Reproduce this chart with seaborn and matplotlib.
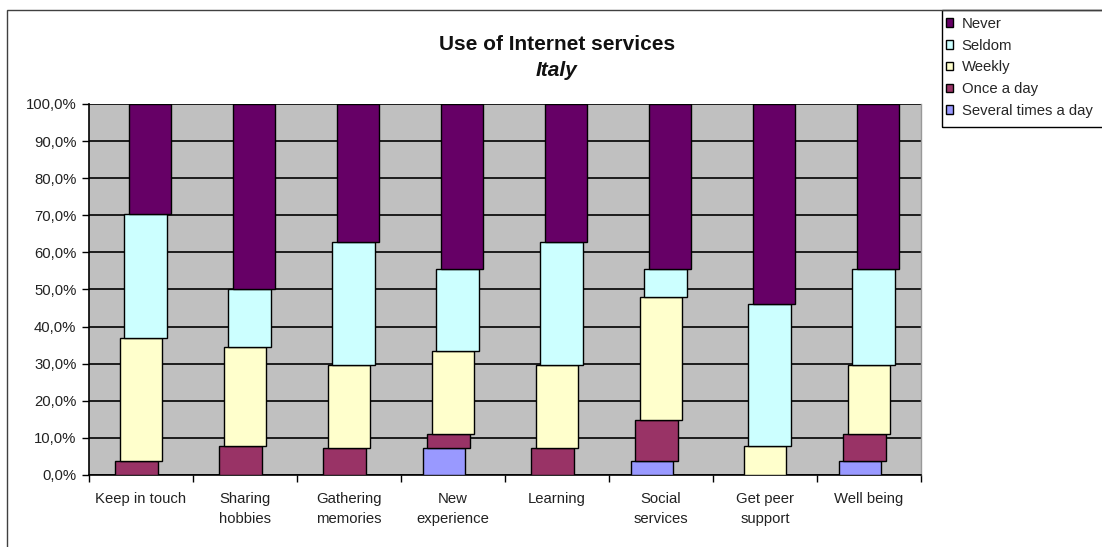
import numpy as np
import matplotlib
matplotlib.use("Agg")
import matplotlib.pyplot as plt
import seaborn as sns
from matplotlib.transforms import ScaledTranslation
from matplotlib.patches import Rectangle, Patch
from matplotlib.ticker import FuncFormatter

# Share of respondents (%) per service and frequency of use
categories = ["Keep in touch", "Sharing\nhobbies", "Gathering\nmemories", "New\nexperience",
              "Learning", "Social\nservices", "Get peer\nsupport", "Well being"]
several_times_a_day = [0.0, 0.0, 0.0, 7.4, 0.0, 3.7, 0.0, 3.7]
once_a_day = [3.7, 7.7, 7.4, 3.7, 7.4, 11.1, 0.0, 7.4]
weekly = [33.3, 26.9, 22.2, 22.2, 22.2, 33.3, 7.7, 18.5]
seldom = [33.3, 15.4, 33.3, 22.2, 33.3, 7.4, 38.5, 25.9]
never = [29.6, 50.0, 37.0, 44.4, 37.0, 44.4, 53.8, 44.4]

series_names = ["Several times a day", "Once a day", "Weekly", "Seldom", "Never"]
series_values = [several_times_a_day, once_a_day, weekly, seldom, never]
series_colors = ["#9999FF", "#993366", "#FFFFCC", "#CCFFFF", "#660066"]
y_ticks = list(range(0, 101, 10))

sns.set_theme(style="white")
plt.rcParams["font.family"] = ["Liberation Sans", "DejaVu Sans"]

W, H = 1102, 547
fig = plt.figure(figsize=(W / 100, H / 100), dpi=100)
ax = fig.add_axes([89 / W, 1 - 475 / H, (921 - 89) / W, (475 - 104) / H])
ax.set_facecolor("#C0C0C0")

# stacked columns, each level nudged sideways a little
bottom = np.zeros(len(categories))
for i, (name, vals, col) in enumerate(zip(series_names, series_values, series_colors)):
    n0 = len(ax.patches)
    sns.barplot(x=categories, y=vals, bottom=bottom, color=col, saturation=1,
                width=0.41, edgecolor="black", linewidth=1.0, ax=ax, zorder=3)
    shift = ScaledTranslation((i - 2) * 0.045, 0, fig.dpi_scale_trans)
    for p, v in zip(ax.patches[n0:], vals):
        p.set_transform(ax.transData + shift)
        if v == 0:
            p.set_visible(False)
    bottom = bottom + np.asarray(vals)

ax.set_xlim(-0.5, len(categories) - 0.5)
ax.set_ylim(0, 100)
ax.set_xlabel("")
ax.set_ylabel("")
ax.set_yticks(y_ticks)
ax.yaxis.set_major_formatter(FuncFormatter(lambda v, _: f"{v:.1f}%".replace(".", ",")))
ax.set_axisbelow(True)
ax.yaxis.grid(True, color="black", linewidth=1.2)
ax.xaxis.grid(False)

ax.tick_params(axis="y", left=True, length=5, width=1, color="black", pad=4,
               labelsize=10.7, labelcolor="#222222")
ax.tick_params(axis="x", which="major", length=0, pad=12, labelsize=10.7, labelcolor="#222222")
ax.set_xticks(np.arange(-0.5, len(categories), 1.0), minor=True)
ax.tick_params(axis="x", which="minor", bottom=True, length=5, width=1, color="black")
for lbl in ax.get_xticklabels():
    lbl.set_linespacing(1.6)

for side in ("left", "bottom"):
    ax.spines[side].set_color("black")
    ax.spines[side].set_linewidth(1.2)
ax.spines["top"].set_visible(False)
ax.spines["right"].set_color("#999999")
ax.spines["right"].set_linewidth(1.0)

# titles
fig.text(557 / W, 1 - 44 / H, "Use of Internet services", ha="center", va="center",
         fontsize=15, fontweight="bold", color="#111111")
fig.text(557 / W, 1 - 70 / H, "Italy", ha="center", va="center",
         fontsize=15, fontweight="bold", style="italic", color="#111111")

# legend, top series first
handles = [Patch(facecolor=c, edgecolor="black", linewidth=1.0) for c in series_colors[::-1]]
fig.legend(handles, series_names[::-1], loc="upper left",
           bbox_to_anchor=(946 / W, 1 - 17 / H), frameon=False, fontsize=10.7,
           handlelength=0.5, handleheight=0.5, handletextpad=0.55,
           labelspacing=0.52, borderpad=0, borderaxespad=0)
fig.add_artist(Rectangle((942 / W, 1 - 127 / H), (1120 - 942) / W, (127 - 10) / H,
                         transform=fig.transFigure, fill=False, edgecolor="black",
                         linewidth=1.0, clip_on=False))

# outer chart frame
fig.add_artist(Rectangle((7 / W, -0.2), 2.0, 1.2 - 10 / H, transform=fig.transFigure,
                         fill=False, edgecolor="#404040", linewidth=1.0, clip_on=False))

fig.savefig("out.png", dpi=100, facecolor="white")
